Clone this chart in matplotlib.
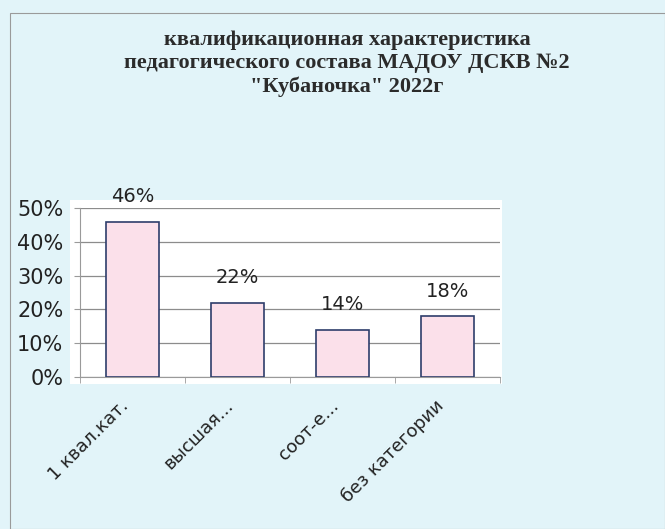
import matplotlib.pyplot as plt
from matplotlib.patches import Rectangle
from matplotlib.ticker import FuncFormatter, MultipleLocator
from matplotlib.transforms import ScaledTranslation

# Data
categories = ['1 квал.кат.', 'высшая...', 'соот-е...', 'без категории']
values = [46, 22, 14, 18]  # percent
title = 'квалификационная характеристика\nпедагогического состава МАДОУ ДСКВ №2\n"Кубаночка" 2022г'

bg = '#e2f4f9'
fig = plt.figure(figsize=(6.65, 5.29), dpi=100, facecolor=bg)

# chart area border
fig.patches.append(Rectangle((10 / 665, 0.0), 1 - 10 / 665, 1 - 13 / 529, transform=fig.transFigure,
                             fill=False, edgecolor='#9a9a9a', linewidth=0.8, zorder=-2))
# white plot area (a bit larger than the axes, like in Excel)
fig.patches.append(Rectangle((70 / 665, 1 - 384 / 529), 432 / 665, 184 / 529, transform=fig.transFigure,
                             facecolor='white', edgecolor='none', zorder=-2))

ax = fig.add_axes([80 / 665, 1 - 377 / 529, 420 / 665, 169 / 529])
ax.set_facecolor('none')
ax.set_zorder(1)

x = range(len(categories))
bars = ax.bar(x, values, width=0.51, color='#fbe0ea', edgecolor='#2e3d6b', linewidth=1.2, zorder=3)

for b, v in zip(bars, values):
    ax.annotate(f'{v}%', (b.get_x() + b.get_width() / 2, v), xytext=(0, 11), textcoords='offset points',
                ha='center', va='bottom', fontsize=14, family='DejaVu Sans', color='#222222')

ax.set_xlim(-0.5, len(categories) - 0.5)
ax.set_ylim(0, 50)
ax.yaxis.set_major_locator(MultipleLocator(10))
ax.yaxis.set_major_formatter(FuncFormatter(lambda v, p: f'{v:.0f}%'))
ax.grid(axis='y', color='#8c8c8c', linewidth=0.9, zorder=1)

for s in ['top', 'right']:
    ax.spines[s].set_visible(False)
for s in ['left', 'bottom']:
    ax.spines[s].set_color('#9a9a9a')
    ax.spines[s].set_linewidth(0.8)

ax.set_xticks([i - 0.5 for i in range(len(categories) + 1)], minor=True)
ax.set_xticks(list(x))
ax.set_xticklabels(categories, rotation=45, ha='right', rotation_mode='anchor',
                   fontsize=13, family='DejaVu Sans', color='#222222')
ax.tick_params(axis='x', which='major', length=0, pad=14)
ax.tick_params(axis='x', which='minor', length=4, color='#9a9a9a')
ax.tick_params(axis='y', length=4, color='#9a9a9a', labelsize=15, labelcolor='#222222', pad=8)
for lab in ax.get_yticklabels():
    lab.set_family('DejaVu Sans')

# Excel puts the rotated labels a little to the left of the category centre
shift = ScaledTranslation(-13 / 100, 0, fig.dpi_scale_trans)
for lab in ax.get_xticklabels():
    lab.set_transform(lab.get_transform() + shift)

fig.text(347 / 665, 1 - 30 / 529, title, ha='center', va='top', fontsize=16, fontweight='bold',
         family='Liberation Serif', color='#2b2b2b', linespacing=1.22)

fig.savefig('out.png', dpi=100, facecolor=bg)
